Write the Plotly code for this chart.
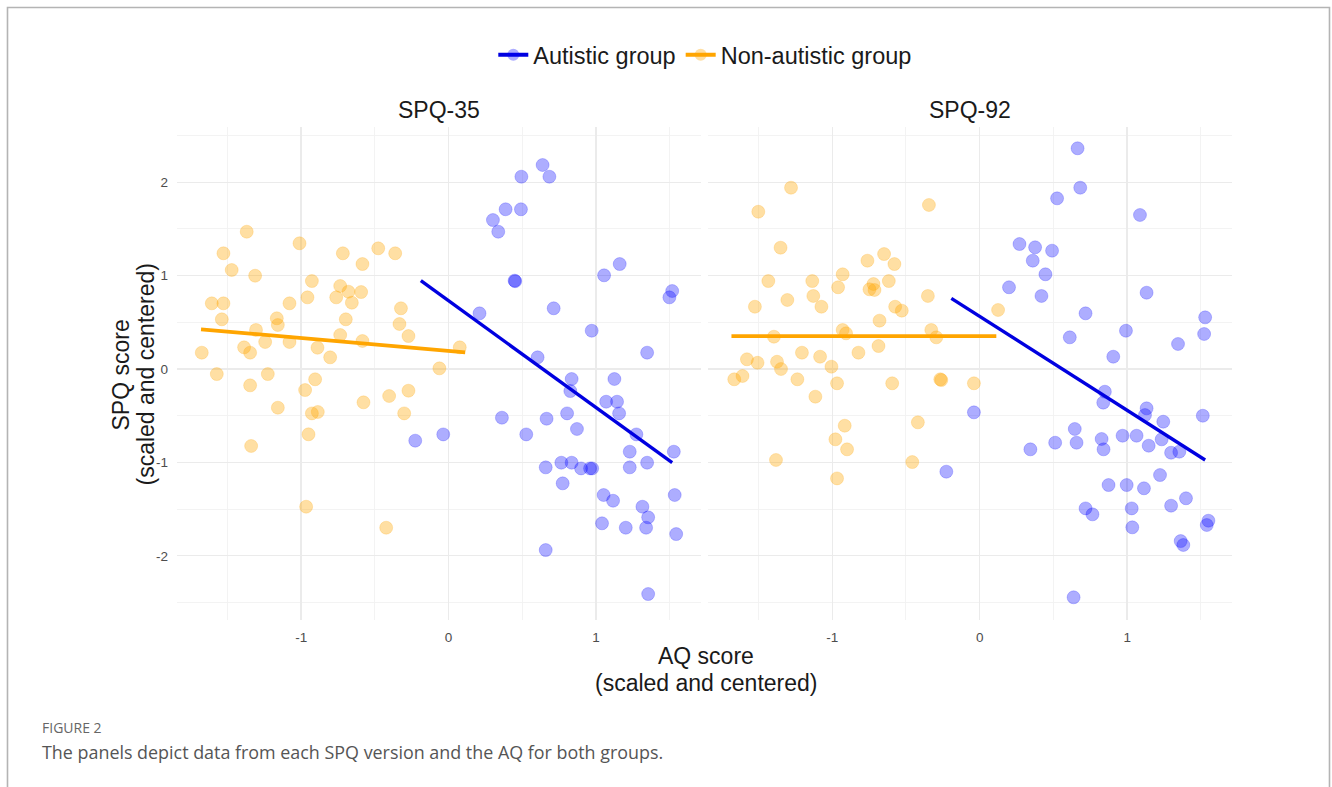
import plotly.graph_objects as go

# ---------------- data (scaled & centered scores) ----------------
groups = ["Autistic group", "Non-autistic group"]
panels = ["SPQ-35", "SPQ-92"]

# SPQ-35 panel, autistic group
aq35_aut = [-0.226, -0.036, 0.638, 0.494, 0.684, 0.387, 0.491, 0.301, 0.337, 1.161, 1.055, 0.448, 0.452,
            1.517, 1.498, 0.713, 0.210, 0.971, 1.347, 0.604, 0.835, 1.125, 0.826, 1.069, 1.143, 1.157,
            0.804, 0.362, 0.665, 0.871, 0.527, 1.274, 1.528, 1.229, 1.347, 1.229, 0.765, 0.835, 0.659,
            0.899, 0.974, 0.960, 0.774, 1.052, 1.116, 1.534, 1.315, 1.354, 1.041, 1.202, 1.340, 1.544,
            0.659, 1.354]
spq35_aut = [-0.767, -0.700, 2.184, 2.059, 2.059, 1.710, 1.710, 1.595, 1.470, 1.124, 1.003, 0.946, 0.940,
             0.835, 0.767, 0.650, 0.596, 0.410, 0.175, 0.125, -0.107, -0.107, -0.236, -0.350, -0.350, -0.475,
             -0.475, -0.521, -0.532, -0.642, -0.700, -0.700, -0.885, -0.885, -1.003, -1.053, -1.003, -1.003, -1.053,
             -1.064, -1.064, -1.064, -1.224, -1.349, -1.410, -1.349, -1.474, -1.588, -1.652, -1.699, -1.699, -1.767,
             -1.938, -2.409]

# SPQ-35 panel, non-autistic group
aq35_non = [-1.369, -1.011, -1.527, -0.717, -0.477, -0.362, -1.471, -1.312, -0.584, -0.927, -0.735, -0.679,
            -0.593, -0.957, -0.762, -0.656, -1.606, -1.527, -1.079, -0.323, -1.538, -1.165, -1.158, -0.697,
            -0.333, -1.306, -0.735, -0.272, -1.244, -1.079, -0.584, -1.387, -1.346, -0.889, 0.076, -1.674,
            -0.803, -0.062, -1.572, -1.226, -1.346, -0.905, -0.973, -0.272, -0.403, -0.577, -1.158, -0.927,
            -0.887, -0.301, -0.950, -1.339, -0.966, -0.423]
spq35_non = [1.470, 1.346, 1.239, 1.239, 1.292, 1.239, 1.060, 0.999, 1.124, 0.942, 0.889, 0.828,
             0.824, 0.767, 0.767, 0.710, 0.703, 0.703, 0.703, 0.650, 0.532, 0.543, 0.471, 0.532,
             0.482, 0.418, 0.364, 0.353, 0.289, 0.289, 0.300, 0.232, 0.175, 0.228, 0.232, 0.175,
             0.125, 0.007, -0.054, -0.054, -0.175, -0.110, -0.225, -0.232, -0.289, -0.357, -0.414, -0.475,
             -0.460, -0.475, -0.699, -0.824, -1.474, -1.699]

# SPQ-92 panel, autistic group
aq92_aut = [-0.039, -0.226, 0.664, 0.682, 0.525, 1.087, 0.270, 0.376, 0.491, 0.360, 0.446, 0.199, 0.419,
            1.132, 0.718, 1.529, 1.522, 0.992, 0.611, 1.345, 0.906, 0.849, 0.838, 1.132, 1.121, 1.245,
            1.513, 1.234, 0.645, 0.969, 1.064, 1.146, 0.512, 0.657, 0.827, 0.840, 0.344, 1.298, 1.354,
            1.223, 0.874, 0.997, 1.114, 1.399, 1.298, 0.718, 0.765, 1.031, 1.035, 1.551, 1.540, 1.363,
            1.381, 0.637]
spq92_aut = [-0.464, -1.099, 2.363, 1.941, 1.827, 1.649, 1.338, 1.303, 1.267, 1.160, 1.014, 0.875, 0.782,
             0.817, 0.596, 0.553, 0.375, 0.410, 0.339, 0.268, 0.132, -0.243, -0.360, -0.421, -0.493, -0.564,
             -0.500, -0.753, -0.642, -0.714, -0.714, -0.821, -0.789, -0.789, -0.749, -0.860, -0.860, -0.896, -0.885,
             -1.135, -1.242, -1.242, -1.277, -1.384, -1.463, -1.492, -1.556, -1.492, -1.695, -1.624, -1.670, -1.842,
             -1.884, -2.444]

# SPQ-92 panel, non-autistic group
aq92_non = [-1.279, -1.501, -0.344, -1.350, -0.761, -0.648, -0.578, -1.433, -1.135, -0.929, -0.960, -0.720,
            -0.747, -0.713, -0.616, -0.351, -1.524, -1.304, -1.128, -1.073, -0.573, -0.528, -0.679, -1.395,
            -0.929, -0.906, -0.328, -0.294, -0.686, -1.578, -1.506, -1.374, -1.347, -1.205, -1.082, -1.005,
            -0.822, -1.664, -1.608, -1.236, -0.967, -0.593, -0.267, -0.260, -0.039, -1.114, -0.915, -0.978,
            -0.899, -0.419, -1.381, -0.457, -0.967, 0.125]
spq92_non = [1.941, 1.684, 1.756, 1.299, 1.160, 1.231, 1.124, 0.942, 0.942, 1.014, 0.875, 0.910,
             0.853, 0.846, 0.942, 0.782, 0.667, 0.739, 0.782, 0.667, 0.667, 0.625, 0.518, 0.346,
             0.418, 0.382, 0.418, 0.339, 0.246, 0.104, 0.067, 0.078, 0.000, 0.175, 0.132, 0.025,
             0.175, -0.110, -0.075, -0.110, -0.153, -0.153, -0.110, -0.118, -0.153, -0.296, -0.607, -0.753,
             -0.860, -0.571, -0.974, -0.996, -1.171, 0.632]

# linear fits (endpoints)
fit35_aut_x = [-0.188, 1.517]
fit35_aut_y = [0.946, -1.003]
fit35_non_x = [-1.679, 0.113]
fit35_non_y = [0.425, 0.178]
fit92_aut_x = [-0.192, 1.529]
fit92_aut_y = [0.757, -0.974]
fit92_non_x = [-1.683, 0.113]
fit92_non_y = [0.353, 0.353]

x_tickvals = [-1, 0, 1]
x_ticktext = ["-1", "0", "1"]
y_tickvals = [-2, -1, 0, 1, 2]
y_ticktext = ["-2", "-1", "0", "1", "2"]

# ---------------- figure ----------------
W, H = 1332, 787
BLUE_PT = "rgba(0,0,255,0.32)"
BLUE_LN = "#0000e0"
ORNG_PT = "rgba(255,165,0,0.36)"
ORNG_LN = "#ffa500"
FONT = "Liberation Sans, Arial, sans-serif"
CAP_FONT = "Open Sans, sans-serif"

fig = go.Figure()

sets = [
    ("x", "y", aq35_aut, spq35_aut, aq35_non, spq35_non,
     fit35_aut_x, fit35_aut_y, fit35_non_x, fit35_non_y),
    ("x2", "y2", aq92_aut, spq92_aut, aq92_non, spq92_non,
     fit92_aut_x, fit92_aut_y, fit92_non_x, fit92_non_y),
]
for xa, ya, ax, ay, nx, ny, fax, fay, fnx, fny in sets:
    fig.add_trace(go.Scatter(x=ax, y=ay, xaxis=xa, yaxis=ya, mode="markers", showlegend=False,
                             marker=dict(size=13, color=BLUE_PT,
                                         line=dict(width=1, color="rgba(0,0,255,0.2)")),
                             hoverinfo="skip"))
    fig.add_trace(go.Scatter(x=nx, y=ny, xaxis=xa, yaxis=ya, mode="markers", showlegend=False,
                             marker=dict(size=13, color=ORNG_PT,
                                         line=dict(width=1, color="rgba(255,165,0,0.22)")),
                             hoverinfo="skip"))
for xa, ya, ax, ay, nx, ny, fax, fay, fnx, fny in sets:
    fig.add_trace(go.Scatter(x=fax, y=fay, xaxis=xa, yaxis=ya, mode="lines", showlegend=False,
                             line=dict(color=BLUE_LN, width=3.4)))
    fig.add_trace(go.Scatter(x=fnx, y=fny, xaxis=xa, yaxis=ya, mode="lines", showlegend=False,
                             line=dict(color=ORNG_LN, width=3.8)))

# legend-only entries
fig.add_trace(go.Scatter(x=[None], y=[None], mode="lines+markers", name=groups[0],
                         line=dict(color=BLUE_LN, width=4),
                         marker=dict(size=12, color=BLUE_PT)))
fig.add_trace(go.Scatter(x=[None], y=[None], mode="lines+markers", name=groups[1],
                         line=dict(color=ORNG_LN, width=4),
                         marker=dict(size=12, color=ORNG_PT)))

def px_x(p):
    return p / W

def px_y(p):
    return 1 - p / H

xr = [-1.842, 1.709]
yr = [-2.687, 2.591]
common_x = dict(range=xr, tickvals=x_tickvals, ticktext=x_ticktext, showgrid=True,
                gridcolor="#ebebeb", gridwidth=1.3, zeroline=False, showline=False, ticks="",
                tickfont=dict(family=FONT, size=13.5, color="#4d4d4d"), ticklabelstandoff=7,
                minor=dict(dtick=0.5, tick0=0.5, showgrid=True, gridcolor="#f2f2f2", gridwidth=0.9),
                fixedrange=True)
common_y = dict(range=yr, tickvals=y_tickvals, ticktext=y_ticktext, showgrid=True,
                gridcolor="#ebebeb", gridwidth=1.3, zeroline=False, showline=False, ticks="",
                tickfont=dict(family=FONT, size=13.5, color="#4d4d4d"),
                minor=dict(dtick=0.5, tick0=0.5, showgrid=True, gridcolor="#f2f2f2", gridwidth=0.9),
                fixedrange=True)

fig.update_layout(
    width=W, height=H,
    margin=dict(l=0, r=0, t=0, b=0),
    paper_bgcolor="white", plot_bgcolor="white",
    font=dict(family=FONT, color="#1a1a1a"),
    xaxis=dict(domain=[px_x(177), px_x(700.5)], anchor="y", **common_x),
    xaxis2=dict(domain=[px_x(708), px_x(1231.7)], anchor="y2", **common_x),
    yaxis=dict(domain=[px_y(620), px_y(127)], anchor="x", ticklabelstandoff=8, **common_y),
    yaxis2=dict(domain=[px_y(620), px_y(127)], anchor="x2", showticklabels=False, **common_y),
    legend=dict(orientation="h", x=0.5295, xanchor="center", y=px_y(55), yanchor="middle",
                font=dict(family=FONT, size=23.5, color="#1a1a1a"), itemwidth=30,
                bgcolor="rgba(0,0,0,0)"),
    showlegend=True,
)

annotations = [
    dict(text=panels[0], x=(px_x(177) + px_x(700.5)) / 2, y=px_y(110), xref="paper", yref="paper",
         showarrow=False, font=dict(family=FONT, size=23, color="#1a1a1a"), xanchor="center", yanchor="middle"),
    dict(text=panels[1], x=(px_x(708) + px_x(1231.7)) / 2, y=px_y(110), xref="paper", yref="paper",
         showarrow=False, font=dict(family=FONT, size=23, color="#1a1a1a"), xanchor="center", yanchor="middle"),
    dict(text="AQ score", x=px_x(706), y=px_y(656), xref="paper", yref="paper",
         showarrow=False, font=dict(family=FONT, size=23, color="#1a1a1a"), xanchor="center", yanchor="middle"),
    dict(text="(scaled and centered)", x=px_x(706), y=px_y(683), xref="paper", yref="paper",
         showarrow=False, font=dict(family=FONT, size=23, color="#1a1a1a"), xanchor="center", yanchor="middle"),
    dict(text="SPQ score", x=px_x(120.5), y=px_y(375), xref="paper", yref="paper",
         showarrow=False, font=dict(family=FONT, size=23, color="#1a1a1a"), xanchor="center", yanchor="middle",
         textangle=-90),
    dict(text="(scaled and centered)", x=px_x(145.5), y=px_y(375), xref="paper", yref="paper",
         showarrow=False, font=dict(family=FONT, size=23, color="#1a1a1a"), xanchor="center", yanchor="middle",
         textangle=-90),
    dict(text="FIGURE 2", x=px_x(40), y=px_y(727), xref="paper", yref="paper",
         showarrow=False, font=dict(family=CAP_FONT, size=14, color="#666666"),
         xanchor="left", yanchor="middle"),
    dict(text="The panels depict data from each SPQ version and the AQ for both groups.",
         x=px_x(40), y=px_y(752), xref="paper", yref="paper",
         showarrow=False, font=dict(family=CAP_FONT, size=17.9, color="#555555"),
         xanchor="left", yanchor="middle"),
]
fig.update_layout(annotations=annotations)

# figure frame (open at the bottom)
fig.add_shape(type="path", xref="paper", yref="paper",
              path=f"M {px_x(7.5)},-0.05 L {px_x(7.5)},{px_y(7.5)} L {px_x(1329.5)},{px_y(7.5)} L {px_x(1329.5)},-0.05",
              line=dict(color="#b4b4b4", width=1.6), layer="above")

fig.write_html("out.html", config={"displayModeBar": False, "staticPlot": True},
               post_script="document.body.style.margin='0';document.body.style.overflow='hidden';")
